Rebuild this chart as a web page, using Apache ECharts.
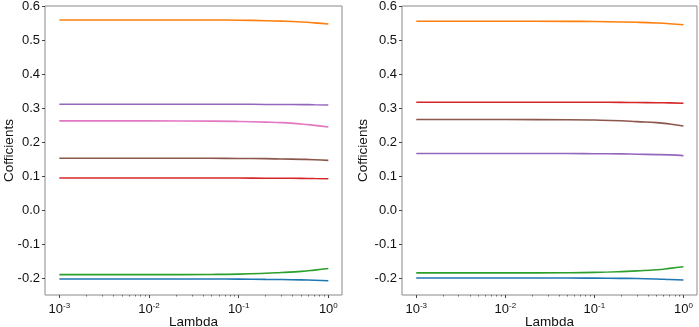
<!DOCTYPE html>
<html>
<head>
<meta charset="utf-8">
<script src="https://cdn.jsdelivr.net/npm/echarts@6/dist/echarts.min.js"></script>
<style>
  html, body { margin: 0; padding: 0; background: #fff; }
  #chart { width: 699px; height: 327px; }
</style>
</head>
<body>
<div id="chart"></div>
<script>
var lambdas = [0.001, 0.01, 0.05, 0.1, 0.2, 0.3, 0.5, 0.7, 1.0];

// left panel
var leftBlue   = [-0.203, -0.203, -0.203, -0.2033, -0.204, -0.2045, -0.2055, -0.2065, -0.208];
var leftOrange = [0.559, 0.559, 0.5588, 0.5582, 0.5568, 0.5555, 0.553, 0.5505, 0.547];
var leftGreen  = [-0.190, -0.190, -0.1895, -0.1885, -0.186, -0.1837, -0.1805, -0.1768, -0.172];
var leftRed    = [0.094, 0.094, 0.094, 0.094, 0.0935, 0.0933, 0.093, 0.0925, 0.092];
var leftPurple = [0.311, 0.311, 0.311, 0.311, 0.3105, 0.3103, 0.310, 0.3095, 0.309];
var leftBrown  = [0.152, 0.152, 0.152, 0.1515, 0.151, 0.150, 0.149, 0.148, 0.146];
var leftPink   = [0.262, 0.262, 0.2615, 0.2605, 0.2585, 0.257, 0.253, 0.249, 0.244];

// right panel
var rightBlue   = [-0.200, -0.200, -0.200, -0.2005, -0.201, -0.2015, -0.203, -0.2045, -0.206];
var rightOrange = [0.555, 0.555, 0.5548, 0.5542, 0.553, 0.552, 0.550, 0.548, 0.545];
var rightGreen  = [-0.185, -0.185, -0.1845, -0.1835, -0.1812, -0.179, -0.1757, -0.1718, -0.167];
var rightRed    = [0.317, 0.317, 0.317, 0.3168, 0.3165, 0.316, 0.3155, 0.315, 0.314];
var rightPurple = [0.166, 0.166, 0.166, 0.1655, 0.165, 0.164, 0.163, 0.162, 0.160];
var rightBrown  = [0.266, 0.266, 0.2655, 0.2645, 0.2625, 0.260, 0.257, 0.253, 0.247];

var yTicks = [-0.2, -0.1, 0.0, 0.1, 0.2, 0.3, 0.4, 0.5, 0.6];
var xMajor = [0.001, 0.01, 0.1, 1];
var xMinor = [];
[0.001, 0.01, 0.1].forEach(function (d) {
    for (var k = 2; k < 10; k++) xMinor.push(d * k);
});

var colors = {
    blue: '#1f77b4', orange: '#ff7f0e', green: '#2ca02c', red: '#d62728',
    purple: '#9467bd', brown: '#8c564b', pink: '#e377c2'
};

var font = 'Liberation Sans, Arial, sans-serif';
var xMin = 0.000692, xMax = 1.42;

function zip(ys) {
    return lambdas.map(function (x, i) { return [x, ys[i]]; });
}

function line(ys, color, idx) {
    return {
        type: 'line', data: zip(ys), xAxisIndex: idx * 2, yAxisIndex: idx,
        symbol: 'none', smooth: true,
        lineStyle: { color: color, width: 1.6 }
    };
}

function xAxes(gridIndex) {
    return [{
        type: 'log', gridIndex: gridIndex, min: xMin, max: xMax, logBase: 10,
        position: 'bottom',
        name: 'Lambda', nameLocation: 'middle', nameGap: 20, nameMoveOverlap: false,
        nameTextStyle: { fontFamily: font, fontSize: 13.5, color: '#111' },
        axisLine: { show: false, onZero: false },
        splitLine: { show: false },
        axisTick: { show: true, length: 3, customValues: xMajor, lineStyle: { color: '#444' } },
        axisLabel: {
            customValues: xMajor, margin: 7,
            fontFamily: font, fontSize: 13, color: '#111',
            formatter: function (v) {
                return '10{s|' + Math.round(Math.log10(v)) + '}';
            },
            rich: { s: { fontSize: 8, verticalAlign: 'top', padding: [0, 0, 6, 0], fontFamily: font, color: '#111' } }
        }
    }, {
        type: 'log', gridIndex: gridIndex, min: xMin, max: xMax, logBase: 10,
        position: 'bottom',
        axisLine: { show: false, onZero: false }, splitLine: { show: false },
        axisTick: { show: true, length: 1.5, customValues: xMinor, lineStyle: { color: '#666' } },
        axisLabel: { show: false }
    }];
}

function yAxis(gridIndex, gap) {
    return {
        type: 'value', gridIndex: gridIndex, min: -0.25, max: 0.6,
        name: 'Cofficients', nameLocation: 'middle', nameGap: gap, nameMoveOverlap: false,
        nameTextStyle: { fontFamily: font, fontSize: 13.5, color: '#111' },
        axisLine: { show: false, onZero: false },
        splitLine: { show: false },
        axisTick: { show: true, length: 3, customValues: yTicks, lineStyle: { color: '#444' } },
        axisLabel: {
            customValues: yTicks, margin: 5,
            fontFamily: font, fontSize: 13, color: '#111',
            formatter: function (v) { return v.toFixed(1); }
        }
    };
}

var chart = echarts.init(document.getElementById('chart'), null, { renderer: 'canvas' });
chart.setOption({
    animation: false,
    backgroundColor: '#fff',
    grid: [
        { left: 45, top: 6, width: 297, height: 289, outerBoundsMode: 'none', containLabel: false,
          show: true, borderColor: '#8a8a8a', borderWidth: 1, backgroundColor: 'transparent' },
        { left: 402, top: 6, width: 295, height: 289, outerBoundsMode: 'none', containLabel: false,
          show: true, borderColor: '#8a8a8a', borderWidth: 1, backgroundColor: 'transparent' }
    ],
    xAxis: xAxes(0).concat(xAxes(1)),
    yAxis: [yAxis(0, 29), yAxis(1, 32)],
    series: [
        line(leftBlue, colors.blue, 0),
        line(leftOrange, colors.orange, 0),
        line(leftGreen, colors.green, 0),
        line(leftRed, colors.red, 0),
        line(leftPurple, colors.purple, 0),
        line(leftBrown, colors.brown, 0),
        line(leftPink, colors.pink, 0),
        line(rightBlue, colors.blue, 1),
        line(rightOrange, colors.orange, 1),
        line(rightGreen, colors.green, 1),
        line(rightRed, colors.red, 1),
        line(rightPurple, colors.purple, 1),
        line(rightBrown, colors.brown, 1)
    ]
});
</script>
</body>
</html>
